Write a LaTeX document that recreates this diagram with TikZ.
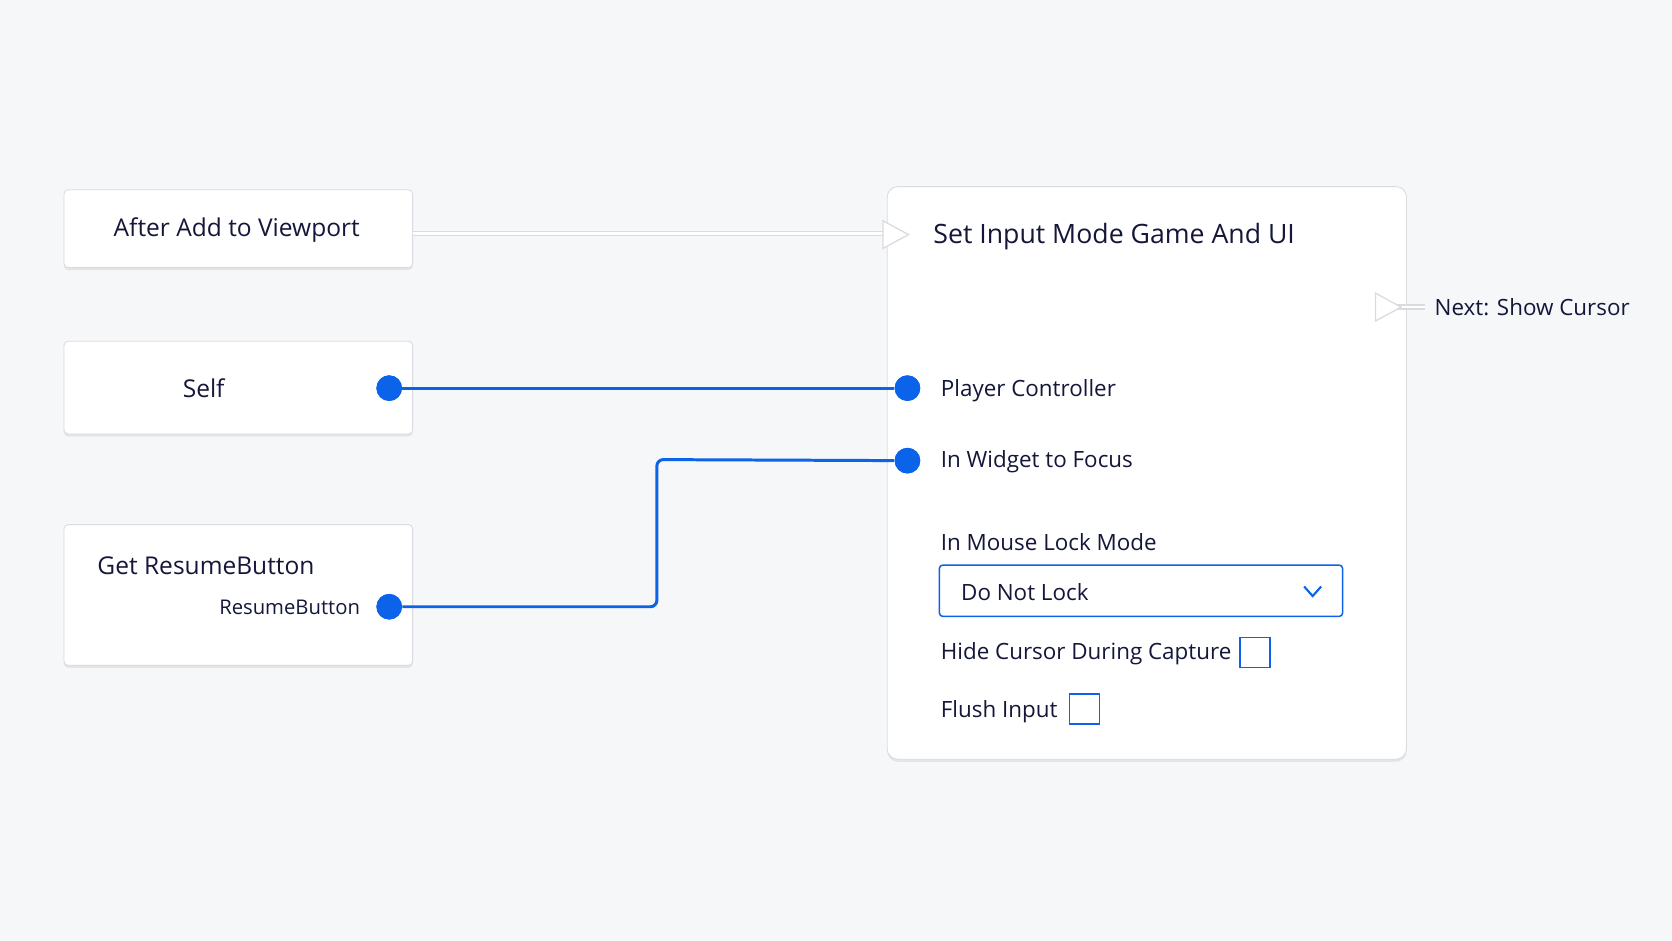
\documentclass[tikz,border=0pt]{standalone}
\usepackage{fontspec}
\setmainfont{Open Sans}
\usetikzlibrary{shadows,positioning}
\definecolor{pinblue}{HTML}{0A63E8}
\definecolor{inkblue}{HTML}{14173A}
\definecolor{bggray}{HTML}{F6F7F9}
\definecolor{edgegray}{HTML}{D9DBE0}
\tikzset{
  box/.style={draw=edgegray, fill=white, rounded corners=2pt, drop shadow={opacity=0.15, shadow xshift=0pt, shadow yshift=-1.2pt}},
  pin/.style={circle, fill=pinblue, inner sep=0pt, minimum size=12pt},
  wire/.style={draw=pinblue, line width=1.4pt, rounded corners=3pt},
  lbl/.style={text=inkblue, font=\fontsize{10.5}{12}\selectfont, inner sep=0pt},
  exec/.style={draw=edgegray, fill=white, line width=0.6pt},
  tick/.style={draw=pinblue, line width=0.7pt, fill=white}
}
\begin{document}
\begin{tikzpicture}[x=0.5pt, y=-0.5pt]
  \fill[bggray] (0,0) rectangle (1568,882);
  \useasboundingbox (0,0) rectangle (1568,882);

  % left nodes
  \path[box] (60,178) rectangle (387,251);
  \path[box] (60,320) rectangle (387,407);
  \path[box] (60,492) rectangle (387,624);
  \node[lbl, font=\fontsize{11.5}{13}\selectfont] (after) at (222,216) {After Add to Viewport};
  \node[lbl, font=\fontsize{11.5}{13}\selectfont] (self) at (191,364) {Self};
  \node[lbl, font=\fontsize{11.5}{13}\selectfont, anchor=west] (getrb) at (91,531) {Get ResumeButton};
  \node[lbl, font=\fontsize{9.5}{11}\selectfont, anchor=east] (rblabel) at (338,570) {ResumeButton};

  % main node
  \path[box, rounded corners=5pt] (832,175) rectangle (1319,712);
  \node[lbl, font=\fontsize{12.5}{14}\selectfont, anchor=west] (title) at (875,222) {Set Input Mode Game And UI};

  % exec pins
  \coordinate (execout) at (387,219);
  \coordinate (execin) at (830,219);
  \draw[edgegray, line width=2.6pt] (execout) -- (execin);
  \draw[white, line width=1.2pt] (execout) -- (execin);
  \path[exec] (828,207) -- (852,220) -- (828,233) -- cycle;
  \coordinate (nextpin) at (1290,288);
  \coordinate (nextend) at (1336,288);
  \draw[edgegray, line width=2.6pt] (1310,288) -- (nextend);
  \draw[white, line width=1.2pt] (1310,288) -- (nextend);
  \path[exec] (nextpin) ++(0,-13) -- ++(24,13) -- ++(-24,13) -- cycle;
  \node[lbl, anchor=west] (next) at (1345,288) {Next: Show Cursor};

  % data pins
  \node[pin] (selfpin) at (365,364) {};
  \node[pin] (pcpin) at (851,364) {};
  \node[pin] (focuspin) at (851,432) {};
  \node[pin] (rbpin) at (365,569) {};
  \draw[wire] (selfpin) -- (pcpin);
  \draw[wire] (rbpin) -- (616,569) -- (616,431) -- (focuspin);
  \node[pin] at (selfpin) {};
  \node[pin] at (pcpin) {};
  \node[pin] at (focuspin) {};
  \node[pin] at (rbpin) {};
  \node[lbl, anchor=west] (pc) at (882,366) {Player Controller};
  \node[lbl, anchor=west] (focus) at (882,433) {In Widget to Focus};

  % settings
  \node[lbl, anchor=west] (lockmode) at (882,508) {In Mouse Lock Mode};
  \draw[pinblue, line width=0.7pt, fill=white, rounded corners=1.5pt] (881,530) rectangle (1259,578);
  \node[lbl, anchor=west] (lock) at (901,555) {Do Not Lock};
  \draw[pinblue, line width=1pt] (1223,550) -- (1231,559) -- (1239,550);
  \node[lbl, anchor=west] (hide) at (882,613) {Hide Cursor During Capture};
  \path[tick] (1163,598) rectangle (1191,626);
  \node[lbl, anchor=west] (flush) at (882,667) {Flush Input};
  \path[tick] (1003,651) rectangle (1031,679);
\end{tikzpicture}
\end{document}
